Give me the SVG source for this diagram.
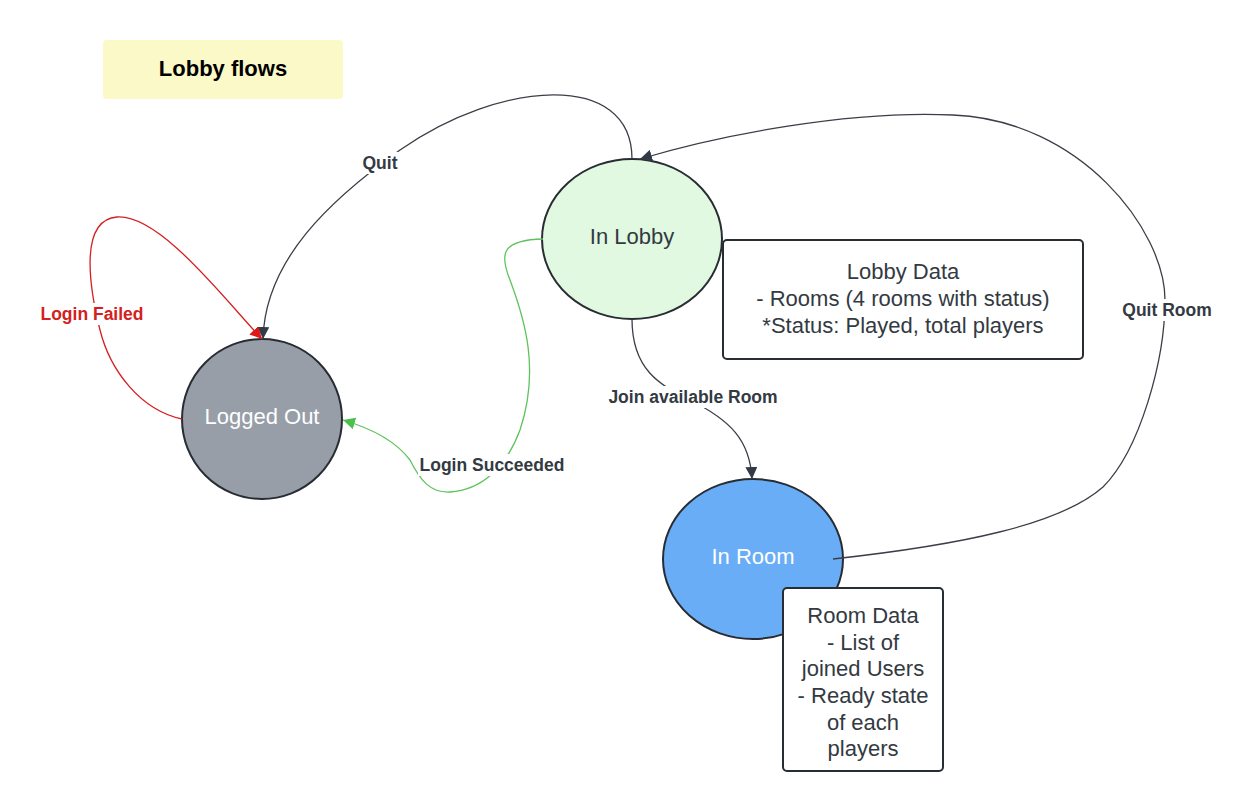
<svg xmlns="http://www.w3.org/2000/svg" width="1251" height="812" viewBox="0 0 1251 812">
<style>
.node{stroke:#282c33;stroke-width:2}
.ntxt{font-family:"Liberation Sans",Arial,sans-serif;font-size:22px;text-anchor:middle}
.edge{fill:none;stroke:#3a3f47;stroke-width:1.3}
.lbl{font-family:"Liberation Sans",Arial,sans-serif;font-size:17.5px;font-weight:bold;text-anchor:middle;fill:#333a42}
.lblbg{fill:#fff}
</style>
<defs>
<marker id="ah" viewBox="0 0 12 12" refX="12" refY="6" markerWidth="12" markerHeight="12" markerUnits="userSpaceOnUse" orient="auto"><path d="M0,0 L12,6 L0,12 z" fill="#333a45"/></marker>
<marker id="ahr" viewBox="0 0 12 12" refX="12" refY="6" markerWidth="12" markerHeight="12" markerUnits="userSpaceOnUse" orient="auto"><path d="M0,0 L12,6 L0,12 z" fill="#e01818"/></marker>
<marker id="ahg" viewBox="0 0 12 12" refX="12" refY="6" markerWidth="12" markerHeight="12" markerUnits="userSpaceOnUse" orient="auto"><path d="M0,0 L12,6 L0,12 z" fill="#4cc04c"/></marker>
</defs>
<rect width="1251" height="812" fill="#fff"/>
<g id="title">
<rect x="103" y="40" width="240" height="59" rx="4" fill="#fcf9c8"/>
<text x="223" y="76" font-family="'Liberation Sans',Arial,sans-serif" font-size="22" font-weight="bold" text-anchor="middle" fill="#000">Lobby flows</text>
</g>
<g id="logged-out">
<circle class="node" cx="262" cy="419" r="80" fill="#979ea8"/>
<text class="ntxt" x="262" y="424" fill="#fff">Logged Out</text>
</g>
<g id="in-lobby">
<ellipse class="node" cx="632" cy="239" rx="90" ry="80" fill="#e1f8e1"/>
<text class="ntxt" x="632" y="244" fill="#333a42">In Lobby</text>
</g>
<g id="in-room">
<ellipse class="node" cx="753" cy="559" rx="90" ry="80" fill="#6aadf7"/>
<text class="ntxt" x="753" y="564" fill="#fff">In Room</text>
</g>
<g id="connectors">
<path class="edge" d="M632,159 C632,70 500,80 400,150 C330,200 265,260 263,339" marker-end="url(#ah)"/>
<path class="edge" d="M833,559 C960,545 1060,525 1103,487 C1140,450 1165,360 1165,300 C1165,230 1080,120 953,115 C850,110 720,135 640,159" marker-end="url(#ah)"/>
<path class="edge" d="M632,319 C632,370 660,385 690,400 C730,420 750,440 752,479" marker-end="url(#ah)"/>
<path class="edge" style="stroke:#5cc35c" d="M543,239 C500,240 500,255 510,280 C525,320 540,370 520,430 C505,470 480,490 450,492 C430,493 420,480 410,460 C395,440 370,428 343,420" marker-end="url(#ahg)"/>
<path class="edge" style="stroke:#d42020" d="M182,419 C140,410 110,370 100,330 C90,290 78,220 117,217 C160,214 225,300 262,339" marker-end="url(#ahr)"/>
<rect class="lblbg" x="360" y="152" width="40" height="22"/>
<text class="lbl" x="380" y="169">Quit</text>
<rect class="lblbg" x="1122" y="299" width="90" height="22"/>
<text class="lbl" x="1167" y="316">Quit Room</text>
<rect class="lblbg" x="606" y="386" width="174" height="22"/>
<text class="lbl" x="693" y="403">Join available Room</text>
<rect class="lblbg" x="418" y="454" width="148" height="22"/>
<text class="lbl" x="492" y="471">Login Succeeded</text>
<rect class="lblbg" x="38" y="303" width="108" height="22"/>
<text class="lbl" x="92" y="320" style="fill:#d42020">Login Failed</text>
</g>
<g id="lobby-data">
<rect class="node" x="723" y="240" width="360" height="119" rx="4" fill="#fff"/>
<text class="ntxt" fill="#333a42"><tspan x="903" y="279">Lobby Data</tspan><tspan x="903" y="306">- Rooms (4 rooms with status)</tspan><tspan x="903" y="333">*Status: Played, total players</tspan></text>
</g>
<g id="room-data">
<rect class="node" x="783" y="588" width="160" height="183" rx="4" fill="#fff"/>
<text class="ntxt" fill="#333a42"><tspan x="863" y="623">Room Data</tspan><tspan x="863" y="650">- List of</tspan><tspan x="863" y="676">joined Users</tspan><tspan x="863" y="703">- Ready state</tspan><tspan x="863" y="730">of each</tspan><tspan x="863" y="756">players</tspan></text>
</g>
</svg>
